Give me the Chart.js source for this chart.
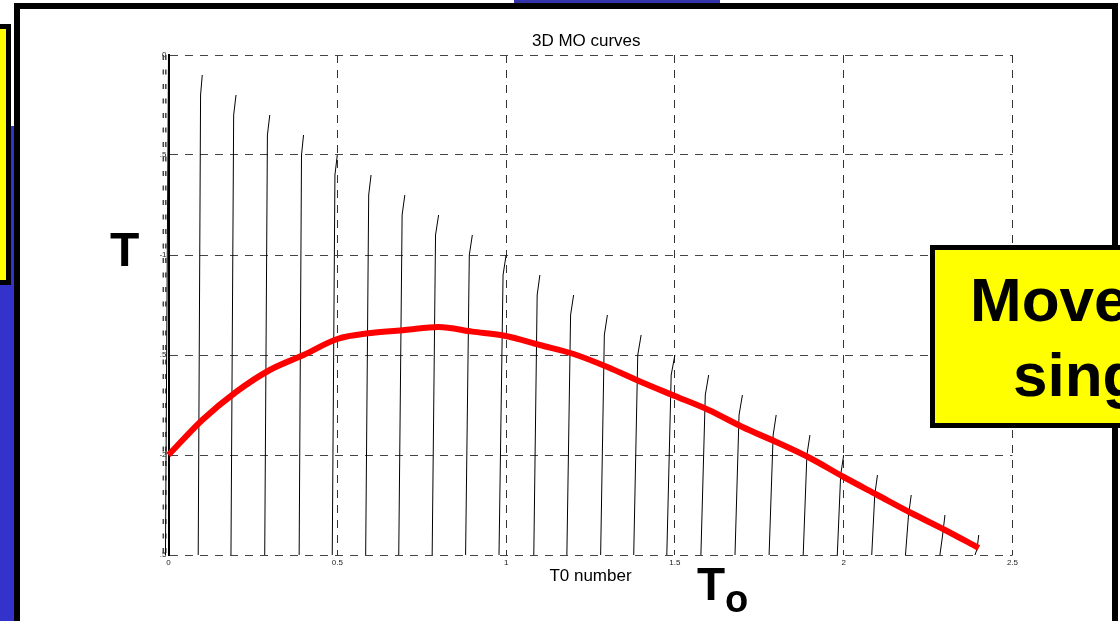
<!DOCTYPE html>
<html>
<head>
<meta charset="utf-8">
<script src="https://cdn.jsdelivr.net/npm/chart.js@4.4.0/dist/chart.umd.min.js"></script>
<style>
html,body{margin:0;padding:0;width:1120px;height:621px;overflow:hidden;background:#fff;font-family:'Liberation Sans',Arial,sans-serif;}
.abs{position:absolute;box-sizing:border-box;}
#blueStrip{left:0;top:126px;width:16px;height:520px;background:#3333cc;}
#topBlue{left:514px;top:0;width:206px;height:3px;background:#3333aa;}
#leftBox{left:-40px;top:24px;width:51px;height:261px;background:#ffff00;border:5px solid #000;}
#frame{left:14px;top:3px;width:1104px;height:700px;background:#fff;border:6px solid #000;}
#chartWrap{left:0;top:0;width:1120px;height:621px;z-index:2;}
.lbl{position:absolute;font-weight:bold;color:#000;white-space:nowrap;z-index:3;}
#tLabel{left:110px;top:226px;font-size:48px;line-height:48px;}
#toT{left:697px;top:561px;font-size:46px;line-height:46px;}
#toO{left:725px;top:580px;font-size:38px;line-height:38px;}
#moveBox{left:930px;top:245px;width:300px;height:183px;background:#ffff00;border:5px solid #000;z-index:3;}
#moveL1{left:970px;top:269px;font-size:62px;line-height:62px;z-index:4;}
#moveL2{left:1013px;top:344px;font-size:62px;line-height:62px;z-index:4;}
</style>
</head>
<body>
<div id="topBlue" class="abs"></div>
<div id="blueStrip" class="abs"></div>
<div id="leftBox" class="abs"></div>
<div id="frame" class="abs"></div>
<div id="chartWrap" class="abs"><canvas id="c" width="1120" height="621"></canvas></div>
<div id="tLabel" class="lbl">T</div>
<div id="toT" class="lbl">T</div>
<div id="toO" class="lbl">o</div>
<div id="moveBox" class="abs"></div>
<div id="moveL1" class="lbl">Move</div>
<div id="moveL2" class="lbl">sing</div>
<script>
// ---- data ----
const chartTitle = '3D MO curves';
const xAxisTitle = 'T0 number';
const xTickLabels = ['0', '0.5', '1', '1.5', '2', '2.5'];
const yTickLabels = ['-2.5', '-2', '-1.5', '-1', '-0.5', '0'];

// red curve (T0 number vs T)
const redT0 = [0, 0.1, 0.2, 0.3, 0.4, 0.5, 0.6, 0.7, 0.8, 0.9, 1.0, 1.1, 1.2, 1.3, 1.4, 1.5, 1.6, 1.7, 1.8, 1.9, 2.0, 2.1, 2.2, 2.3, 2.4];
const redT  = [-2.0, -1.825, -1.685, -1.575, -1.5, -1.42, -1.39, -1.375, -1.36, -1.383, -1.405, -1.45, -1.495, -1.56, -1.635, -1.705, -1.775, -1.86, -1.935, -2.015, -2.11, -2.2, -2.29, -2.375, -2.465];

// MO curves: apex (T0, top), a point just below the apex, and the bottom end
const moT0      = [0.1, 0.2, 0.3, 0.4, 0.5, 0.6, 0.7, 0.8, 0.9, 1.0, 1.1, 1.2, 1.3, 1.4, 1.5, 1.6, 1.7, 1.8, 1.9, 2.0, 2.1, 2.2, 2.3, 2.4];
const moTop     = [-0.1, -0.2, -0.3, -0.4, -0.5, -0.6, -0.7, -0.8, -0.9, -1.0, -1.1, -1.2, -1.3, -1.4, -1.5, -1.6, -1.7, -1.8, -1.9, -2.0, -2.1, -2.2, -2.3, -2.4];
const moMidX    = [0.095, 0.193, 0.293, 0.394, 0.493, 0.593, 0.692, 0.791, 0.891, 0.991, 1.092, 1.191, 1.291, 1.39, 1.489, 1.59, 1.69, 1.791, 1.891, 1.991, 2.092, 2.192, 2.293, 2.395];
const moMidT    = [-0.2, -0.3, -0.4, -0.5, -0.6, -0.7, -0.8, -0.9, -1.0, -1.1, -1.2, -1.3, -1.4, -1.5, -1.6, -1.7, -1.8, -1.9, -2.0, -2.1, -2.2, -2.3, -2.4, -2.47];
const moBottomX = [0.088, 0.185, 0.285, 0.387, 0.485, 0.584, 0.682, 0.781, 0.88, 0.979, 1.082, 1.18, 1.28, 1.378, 1.476, 1.577, 1.678, 1.779, 1.88, 1.981, 2.083, 2.183, 2.285, 2.389];
const moBottomT = -2.5;

// curve at T0 = 0 and the dashed marks just left of the axis
const zeroCurveX = [0, -0.009];
const zeroCurveT = [0, -2.5];
const leftMarkX  = [-0.0154, -0.008];
const leftMarkT  = [0, -2.5];

// ---- build ----
Chart.defaults.font.family = "'Liberation Sans', Arial, sans-serif";
Chart.defaults.color = '#000';

const datasets = [];
datasets.push({
  label: 'T(T0)',
  data: redT0.map((x, i) => ({x: x, y: redT[i]})),
  borderColor: '#ff0000', borderWidth: 6, cubicInterpolationMode: 'monotone', clip: false
});
moT0.map((x0, i) => {
  datasets.push({
    label: 'MO ' + x0,
    data: [{x: x0, y: moTop[i]}, {x: moMidX[i], y: moMidT[i]}, {x: moBottomX[i], y: moBottomT}],
    borderColor: '#000', borderWidth: 1, tension: 0
  });
});
datasets.push({
  label: 'MO 0',
  data: zeroCurveX.map((x, i) => ({x: x, y: zeroCurveT[i]})),
  borderColor: '#000', borderWidth: 1, clip: false
});
leftMarkX.map((x) => {
  datasets.push({
    label: 'marks',
    data: leftMarkT.map((t) => ({x: x, y: t})),
    borderColor: '#444', borderWidth: 1.5, borderDash: [5, 9.5], clip: false
  });
});

new Chart(document.getElementById('c'), {
  type: 'scatter',
  data: { datasets: datasets },
  options: {
    responsive: false,
    animation: false,
    showLine: true,
    elements: { point: { radius: 0, hoverRadius: 0 } },
    layout: { padding: { left: 160, right: 107.5, top: 31, bottom: 34.3 } },
    plugins: {
      legend: { display: false },
      tooltip: { enabled: false },
      title: {
        display: true, text: chartTitle, color: '#000',
        font: { size: 17, weight: 'normal' },
        padding: { top: 0, bottom: 3.6 }
      }
    },
    scales: {
      x: {
        type: 'linear', min: 0, max: 2.5,
        afterFit: (s) => { s.height = 31.7; },
        ticks: { stepSize: 0.5, padding: 3, color: '#222', font: { size: 8 },
                 callback: (v, i) => xTickLabels[i] },
        grid: { color: '#333', lineWidth: 1, drawTicks: false },
        border: { display: false, dash: [8, 7] },
        title: { display: true, text: xAxisTitle, color: '#000', font: { size: 17 }, padding: { top: 0, bottom: 0 } }
      },
      y: {
        type: 'linear', min: -2.5, max: 0,
        afterFit: (s) => { s.width = 8.5; },
        ticks: { stepSize: 0.5, padding: 2, color: '#222', font: { size: 8 },
                 callback: (v, i) => yTickLabels[i] },
        grid: { color: '#444', lineWidth: 1, drawTicks: false },
        border: { display: true, color: '#000', width: 2, dash: [8, 7] }
      }
    }
  }
});
</script>
</body>
</html>
